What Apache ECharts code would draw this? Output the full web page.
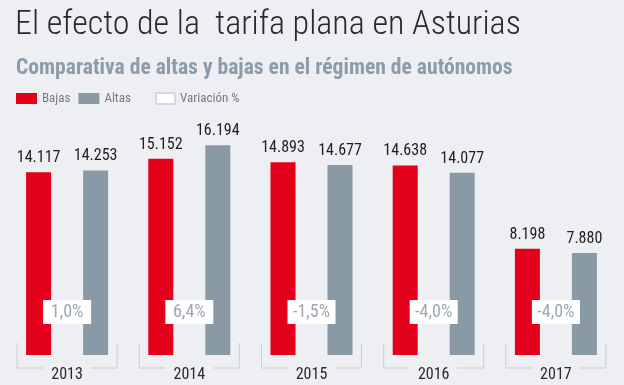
<!DOCTYPE html>
<html><head><meta charset="utf-8">
<script src="https://cdn.jsdelivr.net/npm/echarts@6/dist/echarts.min.js"></script>
<style>html,body{margin:0;padding:0;background:#edeff2}#c{width:624px;height:385px}</style>
</head><body><div id="c"></div>
<script>
const years = ['2013', '2014', '2015', '2016', '2017'];
const bajas = [14117, 15152, 14893, 14638, 8198];
const altas = [14253, 16194, 14677, 14077, 7880];
const variacion = [1.0, 6.4, -1.5, -4.0, -4.0];

const fmtNum = n => String(n).replace(/\B(?=(\d{3})+(?!\d))/g, '.');
const fmtPct = v => v.toFixed(1).replace('.', ',') + '%';
const condensed = '"Roboto Condensed", "Liberation Sans Narrow", Roboto, sans-serif';

const chart = echarts.init(document.getElementById('c'));
chart.setOption({
  backgroundColor: '#edeff2',
  animation: false,
  title: [{
    text: 'El efecto de la  tarifa plana en Asturias',
    left: 10, top: 3,
    textStyle: {fontFamily: condensed, fontWeight: 300, fontSize: 34, color: '#2a2a2a'}
  }, {
    text: 'Comparativa de altas y bajas en el régimen de autónomos',
    left: 11, top: 53,
    textStyle: {fontFamily: condensed, fontWeight: 'bold', fontSize: 21.6, color: '#8d9caa'}
  }],
  legend: [{
    left: 11, top: 87, itemWidth: 21, itemHeight: 11, itemGap: 8,
    icon: 'rect',
    data: ['Bajas', 'Altas'],
    textStyle: {fontFamily: condensed, fontSize: 13, color: '#7a7a7a'}
  }, {
    left: 150, top: 87, itemWidth: 19, itemHeight: 11,
    icon: 'rect',
    data: ['Variación %'],
    textStyle: {fontFamily: condensed, fontSize: 13, color: '#7a7a7a'}
  }],
  grid: {left: 6, right: 7, top: 96, bottom: 30},
  xAxis: {
    type: 'category', data: years,
    axisLine: {show: false}, axisTick: {show: false},
    axisLabel: {margin: 12, fontFamily: condensed, fontSize: 16, color: '#2a2a2a'}
  },
  yAxis: {type: 'value', min: 0, max: 20000, show: false, splitLine: {show: false}},
  series: [{
    name: 'Bajas', type: 'bar', data: bajas, barWidth: 25, barGap: '128%',
    itemStyle: {color: '#e2001a'},
    label: {show: true, position: 'top', distance: 6, formatter: p => fmtNum(p.value),
      fontFamily: condensed, fontSize: 16, color: '#1e1e1e'}
  }, {
    name: 'Altas', type: 'bar', data: altas, barWidth: 25,
    itemStyle: {color: '#8a9aa5'},
    label: {show: true, position: 'top', distance: 6, formatter: p => fmtNum(p.value),
      fontFamily: condensed, fontSize: 16, color: '#1e1e1e'}
  }, {
    name: 'Variación %', type: 'custom', clip: false, z: 5,
    itemStyle: {color: '#ffffff', borderColor: '#d5dae0', borderWidth: 1},
    data: variacion.map((v, i) => [i, v]),
    renderItem: (params, api) => {
      const i = api.value(0);
      const base = api.coord([i, 0]);
      const cx = base[0], by = base[1];
      const half = 50;
      const lineStyle = {stroke: '#c8ced5', lineWidth: 1, fill: null};
      return {type: 'group', children: [
        {type: 'polyline', shape: {points: [[cx - half, by - 12], [cx - half, by + 13], [cx - 24, by + 13]]}, style: lineStyle},
        {type: 'polyline', shape: {points: [[cx + 24, by + 13], [cx + half, by + 13], [cx + half, by - 12]]}, style: lineStyle},
        {type: 'rect', shape: {x: cx - 24, y: by - 55, width: 48, height: 24}, style: {fill: '#ffffff'}},
        {type: 'text', style: {text: fmtPct(api.value(1)), x: cx, y: by - 42.5, align: 'center', verticalAlign: 'middle',
          fill: '#9ea7b0', font: '18px ' + condensed}}
      ]};
    }
  }]
});
</script></body></html>
